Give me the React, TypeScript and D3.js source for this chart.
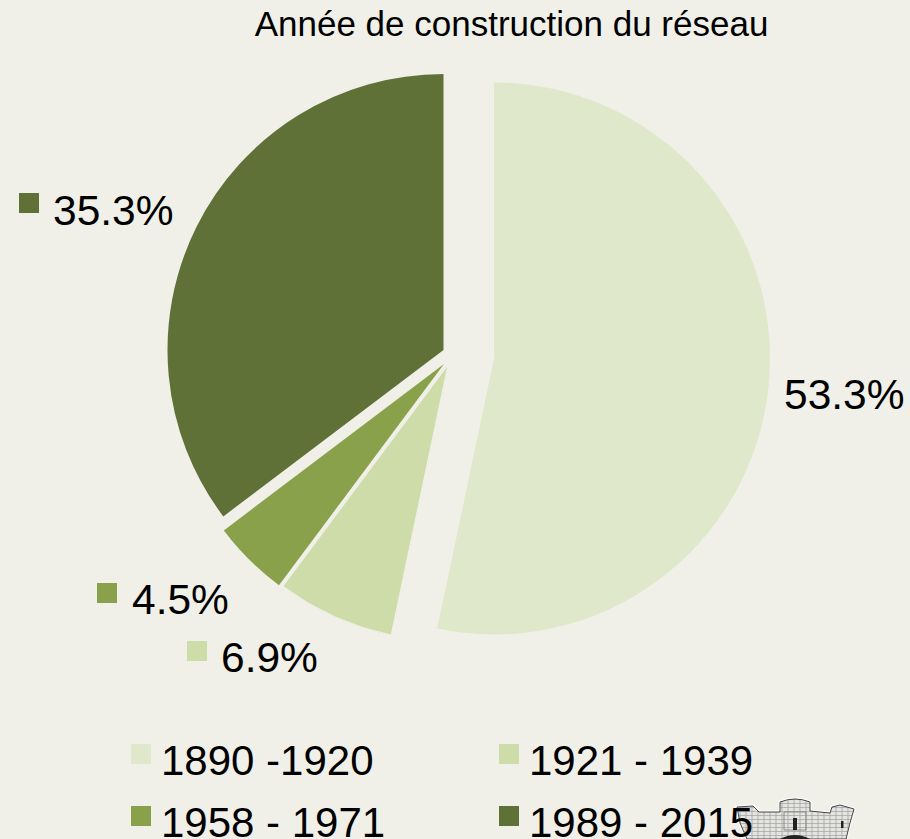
import React from "react";
import * as d3 from "d3";

const title = "Année de construction du réseau";
const periods = ["1890 -1920", "1921 - 1939", "1958 - 1971", "1989 - 2015"];
const shares = [53.3, 6.9, 4.5, 35.3];
const sliceColors = ["#dfe8ca", "#cedcaa", "#8aa14c", "#5f7136"];

const W = 910;
const H = 839;
const BG = "#f0f0e8";
const R = 276;
const sliceCenters: [number, number][] = [[494, 358.5], [448, 365], [444, 364], [443.5, 350]];
const valueLabelPos: { x: number; y: number; sx: number | null; sy: number | null }[] = [
  { x: 784, y: 409, sx: null, sy: null },
  { x: 221, y: 672, sx: 187, sy: 641 },
  { x: 132, y: 614, sx: 97, sy: 583 },
  { x: 53, y: 225, sx: 19, sy: 193 },
];
const legendPos = [
  { x: 131, y: 744 },
  { x: 499, y: 744 },
  { x: 131, y: 806 },
  { x: 499, y: 806 },
];
const FONT = "'Liberation Sans', Arial, sans-serif";

function Crest() {
  const outline =
    "M737 807 L753 806 L759 812 L780 812 L780 802 Q795 796 810 802 L810 811 L830 813 L832 807 L840 805 L854 809 L850 823 L846 839 L747 839 L740 823 Z";
  return (
    <g>
      <defs>
        <pattern id="brick" width="6" height="4" patternUnits="userSpaceOnUse">
          <rect width="6" height="4" fill="#e4e4e1" />
          <path d="M0 3.6H6M2 0V3.6" stroke="#9a9a9a" strokeWidth="0.7" />
        </pattern>
        <filter id="soft" x="-5%" y="-5%" width="110%" height="110%">
          <feGaussianBlur stdDeviation="0.45" />
        </filter>
      </defs>
      <g filter="url(#soft)">
        <path d={outline} fill="none" stroke="#ffffff" strokeWidth="3" />
        <path d={outline} fill="url(#brick)" stroke="#444" strokeWidth="1" />
        <path d="M784 812H806V830H784Z" fill="none" stroke="#777" strokeWidth="0.8" />
        <rect x="793" y="818" width="4" height="12" fill="#222" />
        <rect x="841" y="821" width="2.5" height="7" fill="#222" />
        <path d="M780 839 Q795 831 810 839 Z" fill="#222" />
      </g>
    </g>
  );
}

export default function App() {
  const pie = d3.pie<number>().sort(null).value((d) => d);
  const arcs = pie(shares);
  const arc = d3.arc<d3.PieArcDatum<number>>().innerRadius(0).outerRadius(R);
  return (
    <svg
      width={W}
      height={H}
      viewBox={`0 0 ${W} ${H}`}
      style={{ position: "absolute", left: 0, top: 0, display: "block" }}
      fontFamily={FONT}
    >
      <rect width={W} height={H} fill={BG} />
      <text x={511.5} y={36} fontSize={35} textAnchor="middle" fill="#000">
        {title}
      </text>
      {arcs.map((a, i) => (
        <path
          key={periods[i]}
          d={arc(a) ?? ""}
          transform={`translate(${sliceCenters[i][0]},${sliceCenters[i][1]})`}
          fill={sliceColors[i]}
          stroke={i === 1 ? BG : "none"}
          strokeWidth={i === 1 ? 1 : 0}
        />
      ))}
      {shares.map((v, i) => (
        <g key={v}>
          {valueLabelPos[i].sx !== null && (
            <rect x={valueLabelPos[i].sx!} y={valueLabelPos[i].sy!} width={20} height={20} fill={sliceColors[i]} />
          )}
          <text x={valueLabelPos[i].x} y={valueLabelPos[i].y} fontSize={42.5} fill="#000">
            {d3.format(".1f")(v)}%
          </text>
        </g>
      ))}
      <Crest />
      {periods.map((p, i) => (
        <g key={p}>
          <rect x={legendPos[i].x} y={legendPos[i].y} width={20} height={20} fill={sliceColors[i]} />
          <text x={legendPos[i].x + 30} y={legendPos[i].y + 31} fontSize={42} fill="#000">
            {p}
          </text>
        </g>
      ))}
    </svg>
  );
}
